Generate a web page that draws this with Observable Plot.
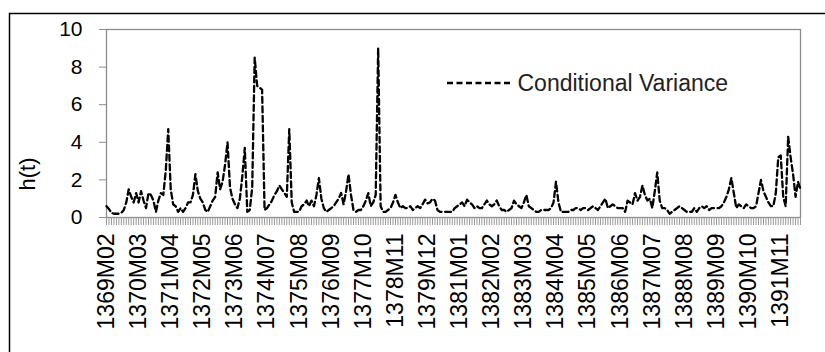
<!DOCTYPE html>
<html>
<head>
<meta charset="utf-8">
<script src="https://cdn.jsdelivr.net/npm/d3@7"></script>
<script src="https://cdn.jsdelivr.net/npm/@observablehq/plot@0.6"></script>
<style>
  html, body { margin: 0; padding: 0; background: white; }
  #chart { width: 825px; height: 352px; overflow: hidden; }
</style>
</head>
<body>
<div id="chart"></div>
<script>
// Conditional variance h(t), monthly, starting 1369M02
const startYear = 1369;
const startMonth = 2;
const hValues = [
  0.6, 0.45, 0.25, 0.2, 0.2, 0.2, 0.25, 0.4, 0.8, 1.5,
  1.1, 0.8, 1.3, 0.8, 1.4, 0.9, 0.5, 1.3, 1.2, 0.9,
  0.3, 0.9, 1.3, 1.2, 2.5, 4.7, 1.5, 0.7, 0.6, 0.3,
  0.5, 0.3, 0.5, 0.8, 0.8, 1.2, 2.3, 1.4, 1.0, 0.8,
  0.4, 0.3, 0.6, 0.9, 1.1, 2.4, 1.5, 1.9, 2.8, 4.0,
  1.6, 1.0, 0.7, 0.5, 1.0, 2.2, 3.7, 0.3, 0.4, 1.6,
  8.5, 7.0, 6.9, 6.8, 0.4, 0.5, 0.7, 0.9, 1.2, 1.4,
  1.7, 1.5, 1.3, 1.1, 4.7, 0.8, 0.3, 0.3, 0.3, 0.6,
  0.7, 0.9, 0.6, 0.9, 0.6, 1.2, 2.1, 1.0, 0.5, 0.3,
  0.4, 0.5, 0.6, 0.8, 1.0, 1.3, 0.7, 1.4, 2.3, 1.2,
  0.4, 0.3, 0.4, 0.4, 0.6, 0.9, 1.3, 0.6, 0.8, 1.2,
  9.0, 0.6, 0.3, 0.3, 0.4, 0.5, 0.8, 1.2, 0.8, 0.5,
  0.6, 0.5, 0.5, 0.6, 0.4, 0.5, 0.6, 0.5, 0.7, 0.95,
  0.75, 0.8, 1.0, 0.9, 0.4, 0.3, 0.3, 0.3, 0.3, 0.3,
  0.3, 0.5, 0.6, 0.7, 0.8, 0.6, 0.95, 0.8, 0.7, 0.5,
  0.6, 0.5, 0.5, 0.7, 0.9, 0.7, 0.6, 0.7, 0.9, 0.6,
  0.4, 0.4, 0.3, 0.4, 0.5, 0.9, 0.7, 0.6, 0.5, 0.8,
  1.2, 0.6, 0.5, 0.4, 0.3, 0.3, 0.4, 0.4, 0.4, 0.4,
  0.5, 0.8, 1.9, 0.8, 0.3, 0.3, 0.3, 0.3, 0.4, 0.4,
  0.5, 0.5, 0.4, 0.5, 0.5, 0.4, 0.5, 0.6, 0.5, 0.4,
  0.6, 0.8, 1.0, 0.5, 0.6, 0.7, 0.6, 0.5, 0.5, 0.5,
  0.3, 0.9, 0.8, 0.7, 1.3, 0.9, 1.1, 1.7, 1.2, 0.9,
  1.0, 0.5, 1.4, 2.4, 0.9, 0.5, 0.5, 0.4, 0.2, 0.3,
  0.4, 0.5, 0.6, 0.5, 0.4, 0.3, 0.3, 0.3, 0.5, 0.3,
  0.5, 0.6, 0.5, 0.6, 0.4, 0.5, 0.5, 0.5, 0.5, 0.6,
  0.8, 1.1, 1.5, 2.1, 1.3, 0.5, 0.7, 0.6, 0.5, 0.7,
  0.6, 0.5, 0.5, 0.6, 1.3, 2.0, 1.4, 1.1, 0.8, 0.6,
  0.6, 1.3, 3.2, 3.3, 1.1, 0.6, 4.3, 3.2, 2.3, 1.1,
  1.9, 1.5
];
const tickLabels = [
  "1369M02","1370M03","1371M04","1372M05","1373M06","1374M07",
  "1375M08","1376M09","1377M10","1378M11","1379M12","1381M01",
  "1382M02","1383M03","1384M04","1385M05","1386M06","1387M07",
  "1388M08","1389M09","1390M10","1391M11"
];
const yTicks = [0, 2, 4, 6, 8, 10];
const seriesName = "Conditional Variance";
const yLabel = "h(t)";

const months = hValues.map((_, i) => {
  const m = (startMonth - 1) + i;
  const y = startYear + Math.floor(m / 12);
  const mo = (m % 12) + 1;
  return `${y}M${String(mo).padStart(2, "0")}`;
});
const table = hValues.map((h, i) => ({month: months[i], h}));

const FONT = "'Liberation Sans', Arial, sans-serif";

const chart = Plot.plot({
  width: 825,
  height: 352,
  marginLeft: 106,
  marginRight: 25,
  marginTop: 29,
  marginBottom: 135,
  style: {fontFamily: FONT, background: "white", color: "black"},
  x: {type: "point", domain: months, padding: 0, axis: null},
  y: {domain: [0, 10], axis: null},
  marks: [
    Plot.frame({stroke: "#8c8c8c", strokeWidth: 1.3}),
    Plot.axisY({ticks: yTicks, tickSize: 7, tickPadding: 17, fontSize: 21,
      stroke: "#8c8c8c", fill: "black", label: null}),
    Plot.axisX({ticks: months, tickSize: 8, text: null, stroke: "#9a9a9a",
      strokeWidth: 1, label: null}),
    Plot.axisX({ticks: tickLabels, tickSize: 0, tickPadding: 16, tickRotate: -90,
      fontSize: 23, fill: "black", label: null}),
    Plot.lineY(table, {x: "month", y: "h", stroke: "black", strokeWidth: 2.3,
      strokeDasharray: "6,3.5"}),
    Plot.text([yLabel], {frameAnchor: "left", dx: -79, dy: 67, rotate: -90,
      fontSize: 22, fill: "black"}),
    Plot.text([seriesName], {frameAnchor: "top-left", dx: 411, dy: 54,
      lineAnchor: "middle", textAnchor: "start", fontSize: 23, fill: "#222"})
  ]
});

const svg = d3.select(chart);
// legend sample line
svg.append("line")
  .attr("x1", 447).attr("x2", 511).attr("y1", 83).attr("y2", 83)
  .attr("stroke", "black").attr("stroke-width", 2.3)
  .attr("stroke-dasharray", "6,3.5");
// outer chart border
svg.append("rect")
  .attr("x", 9.5).attr("y", 13.5).attr("width", 830).attr("height", 350)
  .attr("fill", "none").attr("stroke", "black").attr("stroke-width", 1.5);

document.getElementById("chart").appendChild(chart);
</script>
</body>
</html>
